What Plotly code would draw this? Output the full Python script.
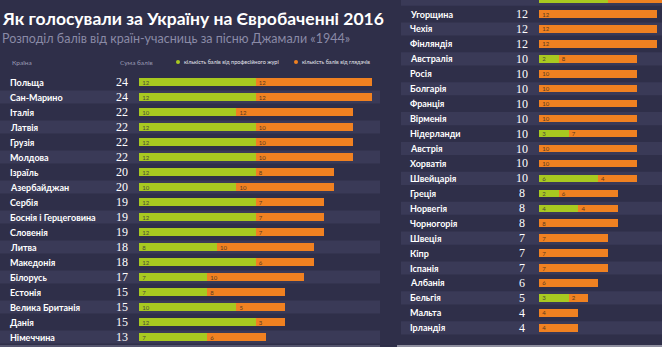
import plotly.graph_objects as go

# ---------------- data ----------------
left_countries = ["Польща", "Сан-Марино", "Італія", "Латвія", "Грузія", "Молдова",
                  "Ізраїль", "Азербайджан", "Сербія", "Боснія і Герцеговина", "Словенія",
                  "Литва", "Македонія", "Білорусь", "Естонія", "Велика Британія",
                  "Данія", "Німеччина"]
left_jury = [12, 12, 10, 12, 12, 12, 12, 10, 12, 12, 12, 8, 12, 7, 7, 10, 12, 7]
left_public = [12, 12, 12, 10, 10, 10, 8, 10, 7, 7, 7, 10, 6, 10, 8, 5, 3, 6]

right_countries = ["Німеччина", "Угорщина", "Чехія", "Фінляндія", "Австралія", "Росія",
                   "Болгарія", "Франція", "Вірменія", "Нідерланди", "Австрія",
                   "Хорватія", "Швейцарія", "Греція", "Норвегія", "Чорногорія",
                   "Швеція", "Кіпр", "Іспанія", "Албанія", "Бельгія", "Мальта",
                   "Ірландія"]
right_jury = [7, 0, 0, 0, 2, 0, 0, 0, 0, 3, 0, 0, 6, 2, 4, 0, 0, 0, 0, 0, 3, 0, 0]
right_public = [6, 12, 12, 12, 8, 10, 10, 10, 10, 7, 10, 10, 4, 6, 4, 8, 7, 7, 7, 6, 2, 4, 4]

title = "Як голосували за Україну на Євробаченні 2016"
subtitle = "Розподіл балів від країн-учасниць за пісню Джамали «1944»"
hdr_country = "Країна"
hdr_sum = "Сума балів"
legend_jury = "кількість балів від професійного журі"
legend_public = "кількість балів від глядачів"

# ---------------- style ----------------
W, H = 662, 347
BG = "#2f2f49"
BAND = "#3a3a57"
GREEN = "#a8c920"
ORANGE = "#f08121"
LABEL_FONT = "Lato"
NUM_FONT = "Liberation Sans Narrow"

fig = go.Figure()

def panel(names, jury, public, xa, ya, xax, yax, band_x0, band_x1, light_parity, top_px, step,
          px_per_pt, bar_x0_px, x_dom, label_x, sum_x, first_row_cut=False):
    n = len(names)
    totals = [j + p for j, p in zip(jury, public)]
    yv = list(range(n))

    def labels(vals):
        out = []
        for i, v in enumerate(vals):
            if v == 0 or (first_row_cut and i == 0):
                out.append("")
            else:
                out.append(str(v))
        return out

    fig.add_trace(go.Bar(
        y=yv, x=jury, orientation="h", marker=dict(color=GREEN, line=dict(width=0)),
        width=7.5 / step, xaxis=xa, yaxis=ya,
        text=labels(jury), textposition="inside",
        insidetextanchor="start", textangle=0, constraintext="none",
        insidetextfont=dict(size=6, color="#4b4b3c", family=LABEL_FONT),
        hoverinfo="skip"))
    fig.add_trace(go.Bar(
        y=yv, x=public, orientation="h", marker=dict(color=ORANGE, line=dict(width=0)),
        width=7.5 / step, xaxis=xa, yaxis=ya,
        text=labels(public), textposition="inside",
        insidetextanchor="start", textangle=0, constraintext="none",
        insidetextfont=dict(size=6, color="#5a3a20", family=LABEL_FONT),
        hoverinfo="skip"))
    dom0 = x_dom[0] * W
    dom1 = x_dom[1] * W
    fig.layout[xax] = dict(domain=list(x_dom), visible=False, fixedrange=True,
                           range=[-(bar_x0_px - dom0) / px_per_pt, (dom1 - bar_x0_px) / px_per_pt])
    fig.layout[yax] = dict(domain=[0, 1], visible=False, fixedrange=True,
                           range=[(H - top_px) / step, -top_px / step],
                           anchor=xa)
    for i in range(n):
        if i % 2 == light_parity:
            fig.add_shape(type="rect", xref="paper", yref=ya,
                          x0=band_x0 / W, x1=band_x1 / W,
                          y0=i - 6.6 / step, y1=i + 6.6 / step,
                          fillcolor=BAND, line=dict(width=0), layer="below")
        if first_row_cut and i == 0:
            continue
        fig.add_annotation(x=label_x / W, xref="paper", y=i, yref=ya, text=names[i],
                           showarrow=False, xanchor="left", yanchor="middle",
                           font=dict(family=LABEL_FONT, size=9, color="white", weight="bold"))
        fig.add_annotation(x=sum_x / W, xref="paper", y=i, yref=ya, text=str(totals[i]),
                           showarrow=False, xanchor="center", yanchor="middle",
                           font=dict(family=NUM_FONT, size=12, color="white"))

panel(left_countries, left_jury, left_public, "x", "y", "xaxis", "yaxis",
      0, 380, 1, 82, 15.0, 9.71, 139.3, (0, 380 / W), 8, 122)
panel(right_countries, right_jury, right_public, "x2", "y2", "xaxis2", "yaxis2",
      401, 662, 0, -0.9, 14.94, 9.78, 539.3, (401 / W, 1.0), 408, 522, first_row_cut=True)

# title / subtitle
fig.add_annotation(x=0, xref="paper", y=1 - 19 / H, yref="paper", text=title,
                   showarrow=False, xanchor="left", yanchor="middle",
                   font=dict(family=LABEL_FONT, size=17.5, color="white", weight="bold"))
fig.add_annotation(x=0, xref="paper", y=1 - 39 / H, yref="paper", text=subtitle,
                   showarrow=False, xanchor="left", yanchor="middle",
                   font=dict(family=LABEL_FONT, size=12.5, color="#8a8aa6"))

# header row
hy = 1 - 62 / H
hdr_font = dict(family=LABEL_FONT, size=6.5, color="#9a9ab4")
fig.add_annotation(x=10 / W, xref="paper", y=hy, yref="paper", text=hdr_country,
                   showarrow=False, xanchor="left", yanchor="middle", font=hdr_font)
fig.add_annotation(x=118 / W, xref="paper", y=hy, yref="paper", text=hdr_sum,
                   showarrow=False, xanchor="left", yanchor="middle", font=hdr_font)
for cx, col, txt in [(178, GREEN, legend_jury), (296, ORANGE, legend_public)]:
    fig.add_shape(type="circle", xref="paper", yref="paper",
                  x0=(cx - 2) / W, x1=(cx + 2) / W, y0=hy - 2 / H, y1=hy + 2 / H,
                  fillcolor=col, line=dict(width=0))
    fig.add_annotation(x=(cx + 4) / W, xref="paper", y=hy, yref="paper", text=txt,
                       showarrow=False, xanchor="left", yanchor="middle",
                       font=dict(family=LABEL_FONT, size=5.5, color="#e6e6ee"))

# bottom edges
fig.add_shape(type="rect", xref="paper", yref="paper", x0=0, x1=380 / W,
              y0=0, y1=2 / H, fillcolor="#55556e", line=dict(width=0))
fig.add_shape(type="rect", xref="paper", yref="paper", x0=397 / W, x1=1,
              y0=0, y1=2 / H, fillcolor="#8e8e9e", line=dict(width=0))

fig.update_layout(width=W, height=H, margin=dict(l=0, r=0, t=0, b=0),
                  paper_bgcolor=BG, plot_bgcolor="rgba(0,0,0,0)",
                  showlegend=False, barmode="stack")

fig.write_html("out.html", config={"displayModeBar": False})
